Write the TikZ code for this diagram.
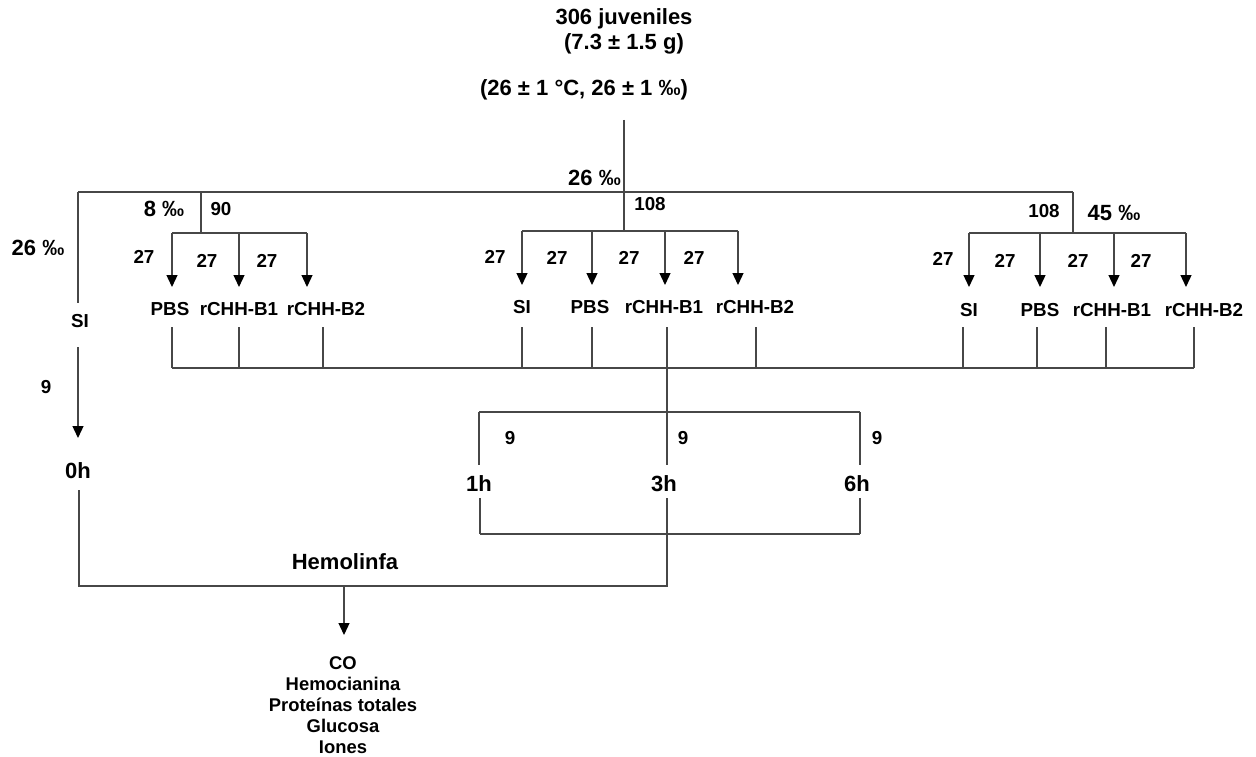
\documentclass[tikz,border=0pt]{standalone}
\usepackage{fontspec}
\setmainfont{Liberation Sans}
\usetikzlibrary{arrows.meta}
\tikzset{
  ln/.style={draw=black!72, line width=1.3pt},
  arr/.style={ln, -{Triangle[length=12pt,width=11pt,color=black]}},
  big/.style={font=\fontsize{22}{24}\selectfont\bfseries, inner sep=0pt},
  med/.style={font=\fontsize{18.8}{21}\selectfont\bfseries, inner sep=0pt},
  lst/.style={font=\fontsize{18.4}{21}\selectfont\bfseries, inner sep=0pt, align=center},
}
\begin{document}
\begin{tikzpicture}[x=1pt,y=-1pt]
\useasboundingbox (0,0) rectangle (1256,757);
% title
\node[big] (t1) at (624,19) {306 juveniles};
\node[big] (t2) at (624,44) {(7.3 ± 1.5 g)};
\node[big] (t3) at (584,90) {(26 ± 1 °C, 26 ± 1 ‰)};
\coordinate (top) at (624,120);
\coordinate (hc) at (624,192);
\coordinate (hL) at (78,192);
\coordinate (hR) at (1073,192);
\coordinate (mB) at (624,231);
\draw[ln] (hL) -- (hR);
\draw[ln] (top) -- (mB);
\node[big, anchor=east] (s26c) at (621,178) {26 ‰};
% left SI branch
\node[big] (s26l) at (38,248) {26 ‰};
\coordinate (siTop) at (78,303);
\draw[ln] (hL) -- (siTop);
\node[med] (si0) at (80,321) {SI};
\coordinate (si0b) at (78,347);
\coordinate (h0t) at (78,438);
\draw[arr] (si0b) -- (h0t);
\node[med] (n9l) at (46,387) {9};
\node[big] (h0) at (78,471) {0h};
% 8 permil branch
\coordinate (aL) at (201,192);
\coordinate (jL) at (201,233);
\draw[ln] (aL) -- (jL);
\node[big] (s8) at (164,209) {8 ‰};
\node[med] (n90) at (221,209) {90};
\coordinate (L1) at (172,233);
\coordinate (L2) at (239,233);
\coordinate (L3) at (307,233);
\draw[ln] (L1) -- (L3);
\coordinate (L1e) at (172,287);
\coordinate (L2e) at (239,287);
\coordinate (L3e) at (307,287);
\draw[arr] (L1) -- (L1e);
\draw[arr] (L2) -- (L2e);
\draw[arr] (L3) -- (L3e);
\node[med] (cL1) at (144,257) {27};
\node[med] (cL2) at (207,261) {27};
\node[med] (cL3) at (267,261) {27};
\node[med] (gL1) at (170,309) {PBS};
\node[med] (gL2) at (239,309) {rCHH-B1};
\node[med] (gL3) at (326,309) {rCHH-B2};
% middle branch
\node[med] (n108m) at (650,204) {108};
\coordinate (M1) at (522,231);
\coordinate (M2) at (592,231);
\coordinate (M3) at (665,231);
\coordinate (M4) at (738,231);
\draw[ln] (M1) -- (M4);
\coordinate (M1e) at (522,285);
\coordinate (M2e) at (592,285);
\coordinate (M3e) at (665,285);
\coordinate (M4e) at (738,285);
\draw[arr] (M1) -- (M1e);
\draw[arr] (M2) -- (M2e);
\draw[arr] (M3) -- (M3e);
\draw[arr] (M4) -- (M4e);
\node[med] (cM1) at (495,257) {27};
\node[med] (cM2) at (557,258) {27};
\node[med] (cM3) at (629,258) {27};
\node[med] (cM4) at (694,258) {27};
\node[med] (gM1) at (522,307) {SI};
\node[med] (gM2) at (590,307) {PBS};
\node[med] (gM3) at (664,307) {rCHH-B1};
\node[med] (gM4) at (755,307) {rCHH-B2};
% right branch
\coordinate (jR) at (1073,233);
\draw[ln] (hR) -- (jR);
\node[med] (n108r) at (1044,211) {108};
\node[big] (s45) at (1114,213) {45 ‰};
\coordinate (R1) at (969,233);
\coordinate (R2) at (1040,233);
\coordinate (R3) at (1114,233);
\coordinate (R4) at (1186,233);
\draw[ln] (R1) -- (R4);
\coordinate (R1e) at (969,287);
\coordinate (R2e) at (1040,287);
\coordinate (R3e) at (1114,287);
\coordinate (R4e) at (1186,287);
\draw[arr] (R1) -- (R1e);
\draw[arr] (R2) -- (R2e);
\draw[arr] (R3) -- (R3e);
\draw[arr] (R4) -- (R4e);
\node[med] (cR1) at (943,259) {27};
\node[med] (cR2) at (1005,261) {27};
\node[med] (cR3) at (1078,261) {27};
\node[med] (cR4) at (1141,261) {27};
\node[med] (gR1) at (969,310) {SI};
\node[med] (gR2) at (1040,310) {PBS};
\node[med] (gR3) at (1112,310) {rCHH-B1};
\node[med] (gR4) at (1204,310) {rCHH-B2};
% lines below groups
\foreach \x [count=\i] in {172,239,323,522,592,667,756,963,1037,1106,1194}{
  \coordinate (d\i) at (\x,327);
  \coordinate (e\i) at (\x,368);
  \draw[ln] (d\i) -- (e\i);
}
\draw[ln] (e1) -- (e11);
% time points
\coordinate (T0) at (667,412);
\draw[ln] (e6) -- (T0);
\coordinate (T1) at (479,412);
\coordinate (T3) at (860,412);
\draw[ln] (T1) -- (T3);
\coordinate (T1e) at (479,465);
\coordinate (T2e) at (667,465);
\coordinate (T3e) at (860,465);
\draw[ln] (T1) -- (T1e);
\draw[ln] (T0) -- (T2e);
\draw[ln] (T3) -- (T3e);
\node[med] (c91) at (510,438) {9};
\node[med] (c92) at (683,438) {9};
\node[med] (c93) at (877,438) {9};
\node[big] (h1) at (479,484) {1h};
\node[big] (h3) at (664,484) {3h};
\node[big] (h6) at (857,484) {6h};
\coordinate (B1) at (480,498);
\coordinate (B2) at (667,498);
\coordinate (B3) at (860,498);
\coordinate (B1e) at (480,534);
\coordinate (B2e) at (667,534);
\coordinate (B3e) at (860,534);
\draw[ln] (B1) -- (B1e);
\draw[ln] (B2) -- (B2e);
\draw[ln] (B3) -- (B3e);
\draw[ln] (B1e) -- (B3e);
% hemolymph
\coordinate (H0) at (79,490);
\coordinate (H0e) at (79,586);
\coordinate (H3e) at (667,586);
\draw[ln] (H0) -- (H0e) -- (H3e) -- (B2e);
\node[big] (hem) at (345,562) {Hemolinfa};
\coordinate (A0) at (344,586);
\coordinate (A1) at (344,635);
\draw[arr] (A0) -- (A1);
\node[lst] (l1) at (343,663) {CO};
\node[lst] (l2) at (343,684) {Hemocianina};
\node[lst] (l3) at (343,705) {Proteínas totales};
\node[lst] (l4) at (343,726) {Glucosa};
\node[lst] (l5) at (343,747) {Iones};
\end{tikzpicture}
\end{document}
